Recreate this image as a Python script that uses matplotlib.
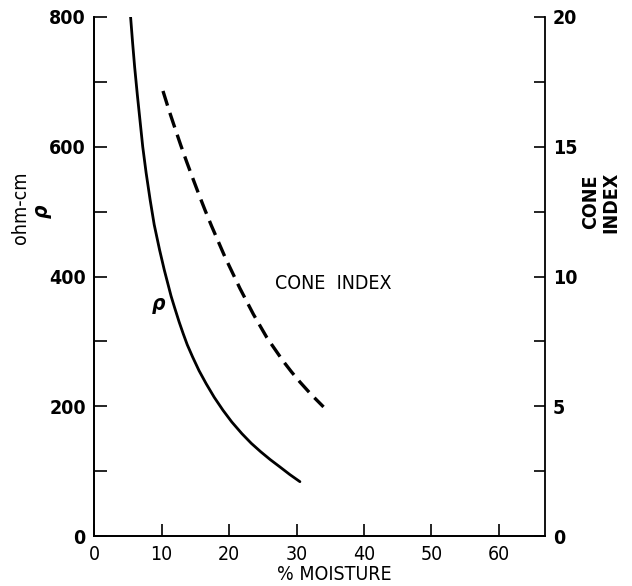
import numpy as np
import matplotlib.pyplot as plt

plt.rcParams['font.family'] = ['DejaVu Sans']
plt.rcParams['font.stretch'] = 'condensed'

# resistivity curve (ohm-cm)
rho_moist = [5.4, 5.7, 6.0, 6.4, 6.8, 7.2, 7.7, 8.3, 8.9, 9.7, 10.4, 10.9, 11.4, 11.9,
             12.6, 13.2, 13.8, 14.6, 15.55, 16.6, 17.8, 19.1, 20.4, 21.9, 23.3, 24.7,
             26.1, 27.5, 29.0, 30.5]
rho_vals = [800, 760, 723, 680, 640, 600, 560, 518, 480, 441, 410, 390, 370, 353,
            330, 312, 295, 276, 255, 235, 214, 194, 176, 158, 143, 130,
            118, 107, 95, 84]

# cone index curve (right axis)
ci_moist = [10.2, 11.1, 12.0, 12.85, 13.7, 14.6, 15.5, 16.45, 17.4, 18.4, 19.4, 20.5,
            21.6, 22.6, 23.6, 24.6, 25.6, 26.8, 28.0, 29.25, 30.5, 32.2, 34.0]
ci_vals = [17.15, 16.4, 15.7, 15.05, 14.43, 13.8, 13.18, 12.55, 11.95, 11.35, 10.75, 10.15,
           9.55, 9.05, 8.55, 8.1, 7.65, 7.2, 6.75, 6.33, 5.94, 5.45, 4.98]

xticks = [0, 10, 20, 30, 40, 50, 60]
yticks_left = np.arange(0, 801, 100)
yticks_right = np.arange(0, 20.1, 2.5)

fig = plt.figure(figsize=(6.32, 5.86), dpi=100)
ax1 = fig.add_axes([0.149, 0.085, 0.713, 0.886])
ax2 = ax1.twinx()

ax1.plot(rho_moist, rho_vals, color='black', lw=2.0, solid_capstyle='round',
         solid_joinstyle='round')
ax2.plot(ci_moist, ci_vals, color='black', lw=2.4, dashes=(4.6, 2.3))

ax1.set_xlim(0, 66.8)
ax1.set_ylim(0, 800)
ax2.set_ylim(0, 20)

ax1.set_xticks(xticks)
ax1.set_xticklabels([str(v) for v in xticks])
ax1.set_yticks(yticks_left)
ax1.set_yticklabels([str(int(v)) if v % 200 == 0 else '' for v in yticks_left])
ax2.set_yticks(yticks_right)
ax2.set_yticklabels([str(int(v)) if v % 5 == 0 else '' for v in yticks_right])

for ax in (ax1, ax2):
    ax.spines['top'].set_visible(False)
    for s in ax.spines.values():
        s.set_linewidth(1.3)
ax1.spines['right'].set_visible(False)

ax1.tick_params(axis='both', direction='in', length=9, width=1.2, labelsize=14, pad=6)
ax2.tick_params(axis='y', direction='in', length=8, width=1.2, labelsize=14, pad=6)
for lab in ax1.get_yticklabels() + ax2.get_yticklabels():
    lab.set_fontweight('bold')

ax1.text(9.5, 357, 'ρ', fontsize=15, ha='center', va='center', style='italic',
         fontweight='bold')
ax1.text(26.8, 389, 'CONE  INDEX', fontsize=14, ha='left', va='center')

fig.text(0.529, 0.019, '% MOISTURE', fontsize=14, ha='center', va='center')
fig.text(0.032, 0.645, 'ohm-cm', fontsize=14, ha='center', va='center', rotation=90)
fig.text(0.066, 0.64, 'ρ', fontsize=15, ha='center', va='center', rotation=90,
         style='italic', fontweight='bold')
fig.text(0.950, 0.655, 'CONE\nINDEX', fontsize=14, ha='center', va='center', rotation=90,
         linespacing=1.1, fontweight='bold')

fig.savefig('out.png', dpi=100)
